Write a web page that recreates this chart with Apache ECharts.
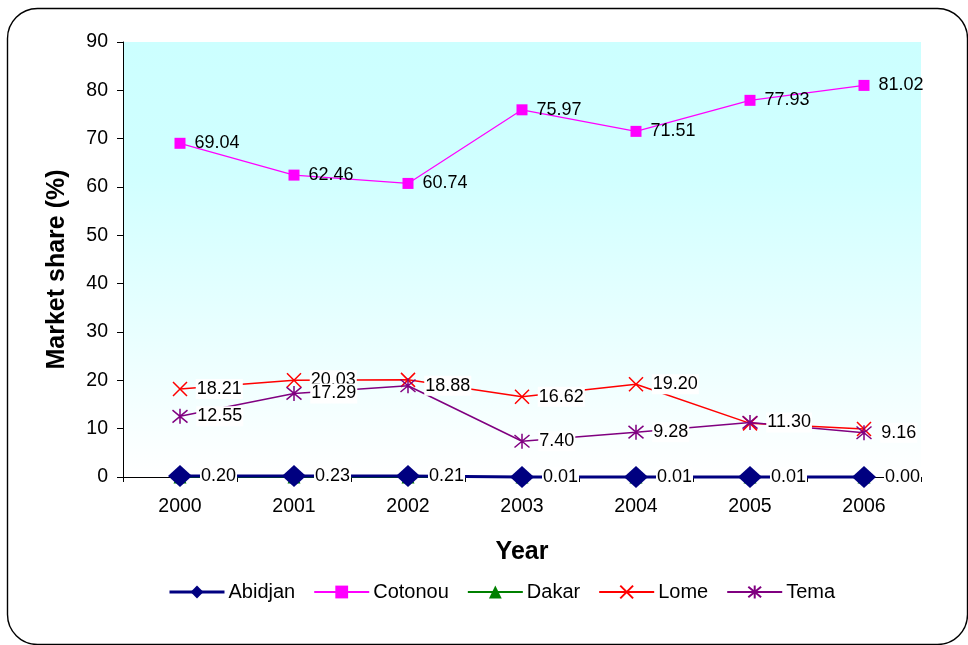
<!DOCTYPE html>
<html>
<head>
<meta charset="utf-8">
<script src="https://cdn.jsdelivr.net/npm/echarts@6/dist/echarts.min.js"></script>
<style>
  html, body { margin: 0; padding: 0; background: #fff; }
  #main { width: 968px; height: 645px; }
</style>
</head>
<body>
<div id="main"></div>
<script>
// data
var years = ['2000', '2001', '2002', '2003', '2004', '2005', '2006'];
var abidjan = [0.20, 0.23, 0.21, 0.01, 0.01, 0.01, 0.00];
var cotonou = [69.04, 62.46, 60.74, 75.97, 71.51, 77.93, 81.02];
var dakar = [0.00, 0.00, 0.00, 0.00, 0.00, 0.00, 0.00];
var lome = [18.21, 20.03, 20.10, 16.62, 19.20, 11.10, 9.95];
var tema = [12.55, 17.29, 18.88, 7.40, 9.28, 11.30, 9.16];
// labels that are hidden behind others in the picture
var lomeHidden = [2, 5, 6];

var font = 'Liberation Sans, Arial, sans-serif';
var crossPath = 'path://M0,0L10,10M10,0L0,10';
var starPath = 'path://M0,0L10,10M10,0L0,10M5,-1L5,11';

function fmt(p) { return p.value.toFixed(2); }

function lbl(bg) {
    return {
        show: true,
        position: 'right',
        distance: 8,
        formatter: fmt,
        fontFamily: font,
        fontSize: 18,
        color: '#000',
        backgroundColor: bg,
        padding: [1, 1]
    };
}

var chart = echarts.init(document.getElementById('main'));
chart.setOption({
    animation: false,
    textStyle: { fontFamily: font },
    graphic: [{
        type: 'rect',
        left: 5, top: 6,
        shape: { width: 960, height: 636, r: 30 },
        style: { fill: 'none', stroke: '#000', lineWidth: 1.4 },
        z: -10
    }],
    grid: {
        left: 123, right: 47, top: 42, bottom: 168,
        show: true,
        borderWidth: 0,
        backgroundColor: {
            type: 'linear', x: 0, y: 0, x2: 0, y2: 1,
            colorStops: [
                { offset: 0, color: '#CCFFFF' },
                { offset: 0.3, color: '#D0FFFF' },
                { offset: 1, color: '#FFFFFF' }
            ]
        }
    },
    legend: {
        left: 163, top: 577,
        itemWidth: 55, itemHeight: 16, itemGap: 18,
        textStyle: { fontSize: 20, color: '#000', fontFamily: font, padding: [0, 0, 0, -1] },
        data: [
            { name: 'Abidjan', lineStyle: { width: 3 } },
            'Cotonou', 'Dakar', 'Lome', 'Tema'
        ]
    },
    xAxis: {
        type: 'category',
        data: years,
        name: 'Year',
        nameLocation: 'middle',
        nameGap: 63,
        nameTextStyle: { fontSize: 25, fontWeight: 'bold', color: '#000', fontFamily: font },
        axisLine: { lineStyle: { color: '#000', width: 1 } },
        axisTick: { show: true, length: 5, lineStyle: { color: '#000' } },
        axisLabel: { fontSize: 19.5, color: '#000', margin: 20, fontFamily: font }
    },
    yAxis: {
        type: 'value',
        min: 0, max: 90, interval: 10,
        name: 'Market share (%)',
        nameLocation: 'middle',
        nameGap: 53,
        nameTextStyle: {
            fontSize: 25, fontWeight: 'bold', color: '#000', fontFamily: font,
            padding: [0, 20, 0, 0]
        },
        axisLine: { show: true, lineStyle: { color: '#000', width: 1 } },
        axisTick: { show: true, length: 6, lineStyle: { color: '#000' } },
        splitLine: { show: false },
        axisLabel: { fontSize: 19.5, color: '#000', margin: 15, fontFamily: font }
    },
    series: [
        {
            name: 'Abidjan', type: 'line', data: abidjan, clip: false,
            symbol: 'diamond', symbolSize: [24, 22],
            itemStyle: { color: '#000080' },
            lineStyle: { color: '#000080', width: 3 },
            label: lbl('#FFFFFF'), z: 3
        },
        {
            name: 'Cotonou', type: 'line', data: cotonou, clip: false,
            symbol: 'rect', symbolSize: 11,
            itemStyle: { color: '#FF00FF' },
            lineStyle: { color: '#FF00FF', width: 1.2 },
            label: lbl('transparent'), z: 3
        },
        {
            name: 'Dakar', type: 'line', data: dakar, clip: false,
            symbol: 'triangle', symbolSize: 13,
            itemStyle: { color: '#008000' },
            lineStyle: { color: '#008000', width: 1.5 },
            label: { show: false }, z: 2
        },
        {
            name: 'Lome', type: 'line', clip: false,
            data: lome.map(function (v, i) {
                return lomeHidden.indexOf(i) >= 0 ? { value: v, label: { show: false } } : v;
            }),
            symbol: crossPath, symbolSize: 14,
            itemStyle: { color: '#FF0000', borderColor: '#FF0000', borderWidth: 1.5 },
            lineStyle: { color: '#FF0000', width: 1.5 },
            label: lbl('#FFFFFF'), z: 4
        },
        {
            name: 'Tema', type: 'line', data: tema, clip: false,
            symbol: starPath, symbolSize: 15,
            itemStyle: { color: '#800080', borderColor: '#800080', borderWidth: 1.5 },
            lineStyle: { color: '#800080', width: 1.5 },
            label: lbl('#FFFFFF'), z: 5
        }
    ]
});
</script>
</body>
</html>
